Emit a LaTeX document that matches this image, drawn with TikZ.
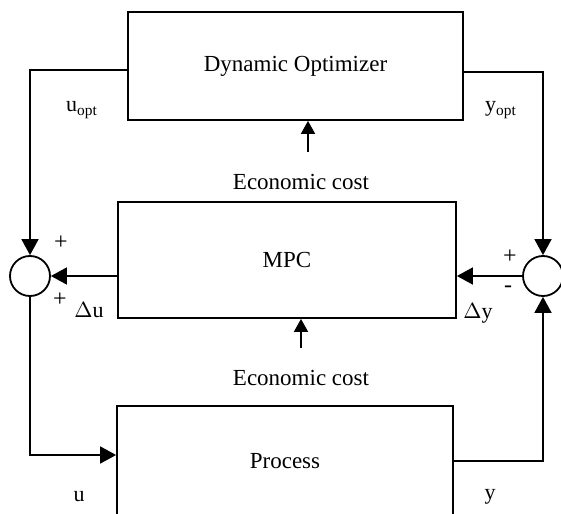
\documentclass[tikz,border=0pt]{standalone}
\usepackage{fontspec}
\setmainfont{Liberation Serif}
\usetikzlibrary{arrows.meta}

\begin{document}
\begin{tikzpicture}[x=0.5pt,y=-0.5pt,line width=0.9pt,
  >={Triangle[length=8pt,width=8.5pt]},
  blockbox/.style={draw,inner sep=0pt,font=\fontsize{11.5}{14}\selectfont},
  sumnode/.style={draw,circle,minimum size=20pt,inner sep=0pt},
  sig/.style={font=\fontsize{11}{13}\selectfont,inner sep=1pt},
  sign/.style={font=\fontsize{12}{14}\selectfont,inner sep=0pt},
  costarrow/.style={->,>={Triangle[length=6.5pt,width=7pt]}}]
\useasboundingbox (0,0) rectangle (561,513);
% blocks
\node[blockbox,minimum width=167.5pt,minimum height=54pt] (dyn) at (295.5,66) {Dynamic Optimizer};
\node[blockbox,minimum width=169pt,minimum height=58pt] (mpc) at (287,260) {MPC};
\node[blockbox,minimum width=168pt,minimum height=55pt] (proc) at (285,461) {Process};
% summing junctions
\node[sumnode] (sumL) at (30,276) {};
\node[sumnode] (sumR) at (543,276) {};
% economic cost inputs
\node[blockbox,draw=none] (cost1) at (301,182) {Economic cost};
\node[blockbox,draw=none] (cost2) at (301,378) {Economic cost};
\coordinate (c1) at (308,152);
\coordinate (c2) at (301,348);
\draw[costarrow] (c1) -- (c1 |- dyn.south);
\draw[costarrow] (c2) -- (c2 |- mpc.south);
% signal paths
\draw[->] ([yshift=-2pt]dyn.west) -| (sumL.north);
\draw[->] ([yshift=-3pt]dyn.east) -| (sumR.north);
\draw[->] (mpc.west |- sumL.east) -- (sumL.east);
\draw[->] (sumR.west) -- (mpc.east |- sumR.west);
\draw[->] (sumL.south) |- ([yshift=3pt]proc.west);
\draw[->] (proc.east) -| (sumR.south);
% labels
\node[sig] (uopt) at (82,110) {u\textsubscript{opt}};
\node[sig] (yopt) at (501,110) {y\textsubscript{opt}};
\node[sig] (du) at (89,310) {$\Delta$u};
\node[sig] (dy) at (478,313) {$\Delta$y};
\node[sig] (uin) at (79,497) {u};
\node[sig] (yout) at (490,497) {y};
\node[sign] (pl1) at (61,243) {+};
\node[sign] (pl2) at (60,300) {+};
\node[sign] (pl3) at (510,257) {+};
\node[sign] (mi1) at (508,289) {-};
\end{tikzpicture}
\end{document}
